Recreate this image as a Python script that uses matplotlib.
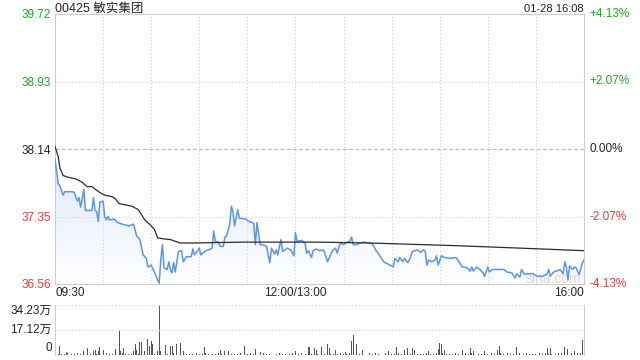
import numpy as np
import matplotlib
matplotlib.use('Agg')
import matplotlib.pyplot as plt
from matplotlib.patches import Polygon

plt.rcParams['font.family'] = ['Liberation Sans', 'Noto Sans CJK SC', 'DejaVu Sans']

# price line (minute from 09:30, price)
px_min = [0, 2, 3, 5, 6, 11, 12, 14, 15, 16, 18, 19, 23, 24, 25, 26, 27, 28, 30, 31,
          32, 33, 34, 37, 39, 42, 46, 49, 51, 53, 55, 57, 58, 60, 62, 64, 65, 66, 67, 68,
          70, 71, 72, 73, 74, 75, 77, 79, 80, 82, 85, 86, 87, 90, 91, 94, 96, 98, 99, 100,
          102, 103, 105, 106, 107, 109, 110, 111, 112, 114, 115, 119, 121, 123, 124, 125, 126, 128, 130, 132,
          134, 135, 137, 138, 139, 140, 141, 142, 145, 147, 149, 150, 151, 154, 156, 157, 158, 160, 161, 163,
          165, 167, 168, 170, 173, 175, 176, 178, 180, 182, 184, 185, 186, 188, 190, 193, 195, 198, 200, 203,
          205, 209, 211, 212, 214, 215, 217, 218, 220, 221, 223, 226, 228, 230, 231, 232, 233, 235, 237, 238,
          239, 241, 243, 247, 250, 251, 254, 257, 259, 260, 261, 263, 265, 267, 268, 270, 271, 273, 278, 280,
          282, 285, 287, 288, 290, 291, 293, 294, 298, 301, 304, 307, 308, 309, 311, 314, 315, 317, 318, 319,
          320, 321, 323, 324, 325, 327, 329, 330]
price = [38.02, 37.73, 37.71, 37.60, 37.64, 37.64, 37.63, 37.53, 37.57, 37.46, 37.67, 37.42, 37.42, 37.57, 37.42, 37.41, 37.29, 37.52, 37.53, 37.35,
         37.31, 37.35, 37.31, 37.32, 37.28, 37.26, 37.24, 37.26, 37.12, 37.08, 36.90, 36.86, 36.76, 36.78, 36.70, 36.61, 36.57, 36.84, 37.02, 36.75,
         36.73, 36.82, 36.73, 36.69, 36.81, 36.70, 36.94, 36.95, 36.82, 36.88, 36.88, 36.97, 36.90, 36.98, 36.90, 36.95, 36.96, 36.98, 37.18, 37.06,
         37.05, 37.00, 37.00, 37.11, 37.12, 37.26, 37.47, 37.41, 37.24, 37.43, 37.33, 37.32, 37.29, 37.28, 37.27, 37.02, 37.28, 37.02, 37.02, 37.00,
         36.81, 36.98, 36.91, 36.96, 36.90, 37.00, 37.08, 36.94, 36.98, 36.96, 36.89, 37.16, 37.06, 37.07, 37.04, 36.92, 36.95, 36.87, 36.95, 36.97,
         36.95, 36.96, 36.94, 36.82, 36.95, 36.98, 36.92, 37.04, 37.02, 37.05, 37.06, 37.11, 37.02, 37.02, 37.04, 37.05, 37.04, 37.03, 36.96, 36.88,
         36.82, 36.78, 36.76, 36.86, 36.82, 36.87, 36.82, 36.86, 36.81, 36.84, 36.94, 36.96, 36.93, 36.96, 36.94, 36.78, 36.84, 36.82, 36.84, 36.89,
         36.78, 36.89, 36.87, 36.86, 36.87, 36.85, 36.76, 36.75, 36.71, 36.76, 36.71, 36.76, 36.73, 36.69, 36.65, 36.76, 36.70, 36.73, 36.73, 36.73,
         36.70, 36.69, 36.63, 36.68, 36.64, 36.73, 36.67, 36.68, 36.68, 36.65, 36.65, 36.68, 36.73, 36.65, 36.70, 36.72, 36.73, 36.68, 36.82, 36.76,
         36.61, 36.77, 36.73, 36.76, 36.75, 36.67, 36.81, 36.84]

# average price line
avg_min = [0, 2, 3, 4, 5, 8, 13, 17, 20, 23, 25, 28, 31, 36, 38, 40, 43, 48, 52, 56,
           59, 62, 64, 67, 72, 78, 86, 117, 134, 165, 196, 248, 290, 330]
avg_price = [38.17, 38.05, 37.92, 37.88, 37.83, 37.81, 37.79, 37.75, 37.70, 37.70, 37.67, 37.63, 37.60, 37.58, 37.55, 37.50, 37.49, 37.47, 37.43, 37.31,
             37.26, 37.20, 37.10, 37.09, 37.08, 37.04, 37.04, 37.05, 37.05, 37.05, 37.04, 37.01, 36.98, 36.95]

# volume, 万 shares: small prints every 2 minutes, then the bigger bars
small_vol = [1.2, 0.8, 1.0, 0.6, 1.4, 0.9, 0.7, 1.1, 0.8, 1.5, 0.6, 0.9, 1.2, 0.7, 1.0, 0.8,
             1.3, 0.6, 0.9, 1.1, 0.7, 1.4, 0.8, 1.0, 0.6, 1.2, 0.9, 0.7, 1.1, 0.8, 1.3, 1.0,
             0.9, 1.6, 1.2, 0.8, 1.5, 1.1, 1.3, 0.9, 1.4, 0.7, 1.0, 0.8, 1.2, 0.6, 0.9, 1.1,
             0.7, 1.0, 0.8, 1.3, 0.6, 0.9, 1.2, 0.7, 1.0, 0.8, 1.1, 0.6, 0.9, 1.4, 0.8, 1.0,
             0.7, 1.2, 0.9, 0.6, 1.1, 0.8, 1.3, 0.7, 1.0, 0.9, 1.2, 0.6, 0.8, 1.1, 0.7, 1.4,
             0.9, 1.0, 0.6, 1.2, 0.8, 1.5, 0.7, 1.0, 0.9, 1.3, 0.6, 0.8, 1.1, 0.7, 1.2, 0.9,
             1.0, 0.6, 1.3, 0.8, 1.1, 0.7, 0.9, 1.2, 0.6, 1.0, 0.8, 1.4, 0.7, 0.9, 1.1, 0.6,
             1.2, 0.8, 1.0, 0.7, 1.3, 0.9, 0.6, 1.1, 0.8, 1.2, 0.7, 1.0, 0.9, 1.4, 0.6, 0.8,
             1.1, 0.7, 1.3, 0.9, 1.0, 0.6, 1.2, 0.8, 1.5, 0.7, 0.9, 1.1, 0.6, 1.2, 0.8, 1.0,
             0.7, 1.3, 0.9, 1.1, 0.6, 1.0, 0.8, 1.4, 0.7, 1.2, 0.9, 1.0, 0.8, 1.3, 1.1, 1.6,
             1.2, 1.4, 1.0, 1.5, 1.3, 1.8]
big_min = [0, 3, 5, 7, 18, 20, 24, 25, 27, 28, 30, 38, 40, 41, 43, 49, 50, 51, 53, 54,
           56, 58, 59, 60, 61, 63, 64, 65, 66, 69, 72, 73, 76, 78, 80, 93, 103, 106, 108, 118,
           125, 128, 136, 150, 158, 159, 162, 163, 166, 170, 171, 175, 181, 185, 186, 188, 192, 208, 213, 218,
           220, 223, 224, 233, 239, 240, 241, 243, 254, 259, 261, 268, 276, 277, 288, 307, 309, 318, 320, 324,
           325, 329, 330]
big_vol = [3.0, 6.0, 3.7, 2.3, 3.0, 4.6, 3.0, 3.7, 3.0, 5.7, 3.7, 4.1, 17.3, 3.0, 4.8, 3.0, 7.5, 3.7, 9.1, 9.1,
           3.0, 11.0, 5.9, 9.8, 7.5, 20.5, 3.0, 34.4, 3.0, 6.8, 5.9, 6.4, 7.5, 8.2, 3.0, 5.2, 3.7, 3.0, 3.0, 6.4,
           4.1, 2.3, 3.0, 3.0, 5.2, 5.2, 4.6, 3.7, 5.2, 7.5, 4.6, 3.7, 2.3, 9.4, 13.9, 7.5, 3.7, 3.0, 5.7, 3.7,
           4.6, 4.8, 3.4, 3.0, 4.1, 8.2, 7.5, 3.7, 3.7, 4.8, 3.0, 3.0, 3.7, 6.4, 5.7, 4.6, 4.8, 5.7, 4.1, 3.0,
           3.0, 10.5, 16.9]

prev_close = 38.14
y_ticks = [39.72, 38.93, 38.14, 37.35, 36.56]
pct_labels = ['+4.13%', '+2.07%', '0.00%', '-2.07%', '-4.13%']
GREEN = '#1eaa1e'
RED = '#f03a3a'
GRID = '#cfcfcf'

fig = plt.figure(figsize=(6.4, 3.6), dpi=100)
ax = fig.add_axes([55/640, 1-284/360, 529/640, 270/360])
axv = fig.add_axes([55/640, 1-355/360, 529/640, 50/360])

# main price panel
ax.set_xlim(0, 330)
ax.set_ylim(36.56, 39.72)
for t in range(30, 330, 30):
    ax.axvline(t, color=GRID, lw=0.8, ls=(0, (1, 2)))
for v in [38.93, 37.35]:
    ax.axhline(v, color=GRID, lw=0.8, ls=(0, (1, 2)))
ax.axhline(prev_close, color='#bbbbbb', lw=0.9, ls=(0, (3, 2)))

# gradient fill under the price line
grad = np.linspace(0, 1, 100).reshape(-1, 1)
im = ax.imshow(grad, extent=[0, 330, 36.56, 37.8], origin='lower', aspect='auto',
               cmap=matplotlib.colors.LinearSegmentedColormap.from_list('f', ['#ffffff', '#e3edfb']),
               zorder=1)
poly = Polygon(list(zip(px_min, price)) + [(330, 36.56), (0, 36.56)], closed=True,
               transform=ax.transData, facecolor='none', edgecolor='none')
ax.add_patch(poly)
im.set_clip_path(poly)

ax.plot(px_min, price, color='#5b95ee', lw=1.1, zorder=3)
ax.plot(avg_min, avg_price, color='#2b2b2b', lw=0.9, zorder=4)

for s in ax.spines.values():
    s.set_color('#cccccc')
ax.set_xticks([])
ax.set_yticks(y_ticks)
ax.set_yticklabels(['%.2f' % v for v in y_ticks], fontsize=8.5)
ax.tick_params(axis='y', length=0, pad=3)
for lab, v in zip(ax.get_yticklabels(), y_ticks):
    lab.set_color(GREEN if v > prev_close else (RED if v < prev_close else '#222222'))
for v, p in zip(y_ticks, pct_labels):
    c = GREEN if v > prev_close else (RED if v < prev_close else '#222222')
    ax.text(1.011, v, p, transform=ax.get_yaxis_transform(), color=c, fontsize=8.5,
            ha='left', va='center')

ax.text(0, 1.009, '00425 敏实集团', transform=ax.transAxes, fontsize=9, color='#222222',
        ha='left', va='baseline')
ax.text(1, 1.009, '01-28 16:08', transform=ax.transAxes, fontsize=8, color='#222222',
        ha='right', va='baseline')
ax.text(0, -0.012, '09:30', transform=ax.transAxes, fontsize=8.5, color='#222222', ha='left', va='top')
ax.text(150/330, -0.012, '12:00/13:00', transform=ax.transAxes, fontsize=8.5, color='#222222',
        ha='center', va='top')
ax.text(1, -0.012, '16:00', transform=ax.transAxes, fontsize=8.5, color='#222222', ha='right', va='top')
ax.text(0.943, 0.02, 'sina.com', transform=ax.transAxes, fontsize=10, color='#d6d6d6',
        ha='center', va='center', zorder=2)

# volume panel
vols = np.zeros(331)
vols[0::2] = small_vol
vols[big_min] = big_vol
axv.bar(np.arange(331), vols, width=0.6, color='#555555')
axv.set_xlim(0, 330)
axv.set_ylim(0, 34.23)
axv.axhline(17.12, color=GRID, lw=0.8, ls=(0, (1, 2)))
axv.axhline(34.23, color=GRID, lw=0.8, ls=(0, (1, 2)))
axv.spines['top'].set_visible(False)
axv.spines['bottom'].set_visible(False)
for s in ['left', 'right']:
    axv.spines[s].set_color('#cccccc')
axv.set_xticks([])
axv.set_yticks([])
axv.text(-0.006, 34.23, '34.23万', transform=axv.get_yaxis_transform(), fontsize=8.5,
         color='#222222', ha='right', va='top')
axv.text(-0.006, 17.12, '17.12万', transform=axv.get_yaxis_transform(), fontsize=8.5,
         color='#222222', ha='right', va='center')
axv.text(-0.006, 0.5, '0', transform=axv.get_yaxis_transform(), fontsize=8.5,
         color='#222222', ha='right', va='bottom')

fig.savefig('out.png', dpi=100)
